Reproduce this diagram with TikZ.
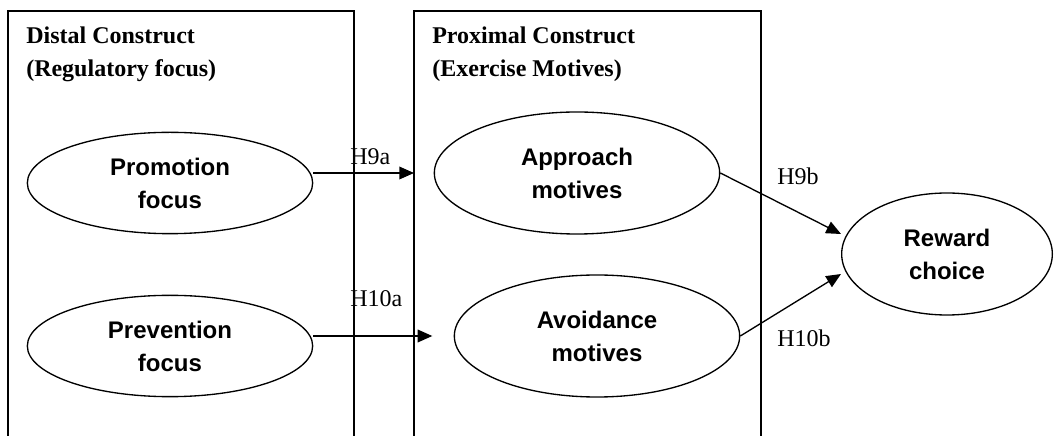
\documentclass[tikz,border=0pt]{standalone}
\usepackage{fontspec}
\setmainfont{Liberation Serif}
\setsansfont{Liberation Sans}
\usetikzlibrary{arrows.meta,shapes.geometric}

\begin{document}
\begin{tikzpicture}[x=0.75pt,y=0.75pt,
  frame/.style={draw,line width=1pt},
  title/.style={anchor=north west,align=left,inner sep=0pt,font=\fontsize{18}{24.75}\selectfont\bfseries},
  construct/.style={draw,ellipse,line width=1pt,align=center,inner sep=0pt,
    minimum width=214pt,font=\sffamily\fontsize{18}{24.75}\selectfont\bfseries},
  hyp/.style={anchor=base west,inner sep=0pt,font=\fontsize{18}{20}\selectfont},
  arr/.style={-{Triangle[length=11pt,width=9.5pt]},line width=1pt}]
\clip (0,0) rectangle (1055,435);
% construct frames, open at the bottom
\draw[frame] (8,-20) rectangle (354,424);
\draw[frame] (414,-20) rectangle (761,424);
\coordinate (proxW) at (414,0);
\node[title] (distal) at (26,408) {Distal Construct\\(Regulatory focus)};
\node[title] (proximal) at (432,408) {Proximal Construct\\(Exercise Motives)};
% constructs
\node[construct,minimum height=76pt] (prom) at (170,252) {Promotion\\focus};
\node[construct,minimum height=76pt] (prev) at (170,89) {Prevention\\focus};
\node[construct,minimum height=91.5pt] (appr) at (577,262) {Approach\\motives};
\node[construct,minimum height=91.5pt] (avoid) at (597,99) {Avoidance\\motives};
\node[construct,minimum width=158pt,minimum height=91.5pt] (reward) at (947,181) {Reward\\choice};
% hypotheses
\node[hyp] (h9a) at (350,270) {H9a};
\node[hyp] (h10a) at (350,128) {H10a};
\node[hyp] (h9b) at (777,250) {H9b};
\node[hyp] (h10b) at (777,88) {H10b};
\draw[arr] (prom.east |- appr.center) -- (appr.center -| proxW);
\draw[arr] (prev.east |- avoid.center) -- ([xshift=-16pt]avoid.west);
\draw[arr] (appr.east) -- ([yshift=15pt]reward.west);
\draw[arr] (avoid.east) -- ([yshift=-15pt]reward.west);
\end{tikzpicture}
\end{document}
